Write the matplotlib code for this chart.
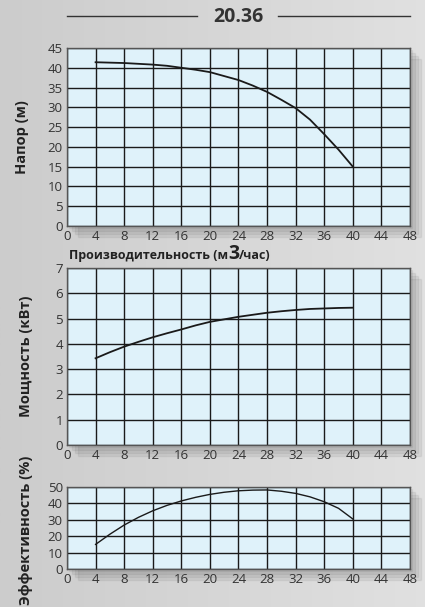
import numpy as np
import matplotlib.pyplot as plt
from matplotlib.patches import Rectangle

# %%
# Curve data
flow = [4, 6, 8, 10, 12, 14, 16, 18, 20, 22, 24, 26, 28, 30, 32, 34, 36, 38, 40]
head = [41.4, 41.3, 41.2, 41.0, 40.8, 40.5, 40.0, 39.5, 38.9, 37.9, 36.9, 35.5, 33.9, 31.9,
        29.8, 26.9, 23.2, 19.3, 15.0]
flow_p = [4, 6, 8, 10, 12, 14, 16, 18, 20, 22, 24, 26, 28, 30, 32, 34, 36, 38, 40]
power = [3.43, 3.67, 3.89, 4.08, 4.26, 4.42, 4.57, 4.73, 4.87, 4.97, 5.07, 5.15, 5.23, 5.29,
         5.34, 5.38, 5.40, 5.42, 5.43]
flow_e = [4, 6, 8, 10, 12, 14, 16, 18, 20, 22, 24, 26, 28, 30, 32, 34, 36, 38, 40]
eff = [15.0, 21.2, 26.8, 31.5, 35.5, 38.8, 41.5, 43.7, 45.5, 46.8, 47.7, 48.1, 48.2, 47.4,
       46.1, 44.0, 41.0, 37.0, 30.5]
xticks = list(range(0, 49, 4))

W, H = 425, 607
plt.rcParams['font.family'] = ['Open Sans', 'DejaVu Sans']
fig = plt.figure(figsize=(W / 100, H / 100), dpi=100, facecolor='#d9d9d9')

# light gray backdrop, slightly lighter towards the right
bg = fig.add_axes([0, 0, 1, 1], zorder=-10)
g = np.linspace(0.80, 0.88, 256)
img = np.dstack([g, g, g]).reshape(1, -1, 3)
bg.imshow(img, aspect='auto', extent=[0, 1, 0, 1])
bg.axis('off')


def box(l, t, r, b):
    return [l / W, 1 - b / H, (r - l) / W, (b - t) / H]


def make_axes(l, t, r, b, ymax, ystep):
    # soft shadow
    for i in range(4):
        off = 2 + i * 3
        fig.patches.append(Rectangle(((l + off) / W, 1 - (b + off) / H), (r - l) / W, (b - t) / H,
                                     transform=fig.transFigure, color='black', alpha=0.05, zorder=-5))
    ax = fig.add_axes(box(l, t, r, b), facecolor='#dff2fa')
    ax.set_xlim(0, 48)
    ax.set_ylim(0, ymax)
    ax.set_xticks(xticks)
    ax.set_yticks(np.arange(0, ymax + 0.1, ystep))
    ax.grid(True, color='#1a1a1a', linewidth=1.0)
    ax.set_axisbelow(True)
    ax.tick_params(length=0, labelsize=9.5, colors='#333333', pad=3)
    for s in ax.spines.values():
        s.set_color('#555555')
        s.set_linewidth(1.0)
    return ax


ax1 = make_axes(67, 48, 410, 226, 45, 5)
ax1.plot(flow, head, color='#1a1a1a', linewidth=1.3)

ax2 = make_axes(67, 268, 410, 445, 7, 1)
ax2.plot(flow_p, power, color='#1a1a1a', linewidth=1.3)

ax3 = make_axes(67, 487, 410, 569, 50, 10)
ax3.plot(flow_e, eff, color='#1a1a1a', linewidth=1.0)

# labels
fig.text(22 / W, 1 - 137 / H, 'Напор (м)', rotation=90, ha='center', va='center',
         fontsize=10.5, fontweight='bold', color='#222222')
fig.text(26 / W, 1 - 356 / H, 'Мощность (кВт)', rotation=90, ha='center', va='center',
         fontsize=10.5, fontweight='bold', color='#222222')
fig.text(26 / W, 1 - 530 / H, 'Эффективность (%)', rotation=90, ha='center', va='center',
         fontsize=10.5, fontweight='bold', color='#222222')

base_y = 1 - 259 / H
t1 = fig.text(69 / W, base_y, 'Производительность (м', ha='left', va='baseline',
              fontsize=9, fontweight='bold', color='#222222')
fig.canvas.draw()
t2 = fig.text(t1.get_window_extent().x1 / W, base_y, '3', ha='left', va='baseline',
              fontsize=14, fontweight='bold', color='#222222')
fig.canvas.draw()
fig.text(t2.get_window_extent().x1 / W, base_y, '/час)', ha='left', va='baseline',
         fontsize=9, fontweight='bold', color='#222222')

# title
fig.text(238 / W, 1 - 17 / H, '20.36', ha='center', va='center', fontsize=14,
         fontweight='bold', color='#333333')
fig.add_artist(plt.Line2D([67 / W, 197 / W], [1 - 16 / H, 1 - 16 / H], color='#333333', linewidth=1))
fig.add_artist(plt.Line2D([278 / W, 410 / W], [1 - 16 / H, 1 - 16 / H], color='#333333', linewidth=1))

fig.savefig('out.png', dpi=100, facecolor=fig.get_facecolor())
